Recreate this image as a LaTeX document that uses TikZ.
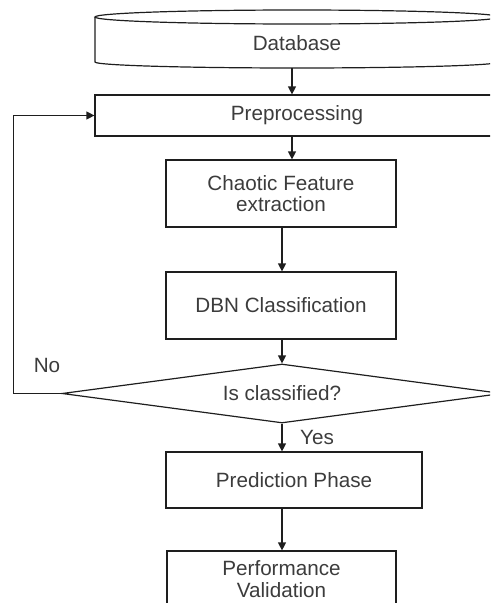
\documentclass[tikz,border=0pt]{standalone}
\usepackage{fontspec}
\setmainfont{Liberation Sans}
\usetikzlibrary{shapes.geometric,arrows.meta,calc}
\definecolor{txtc}{RGB}{60,60,60}
\definecolor{linec}{RGB}{30,30,30}
\begin{document}
\begin{tikzpicture}[x=0.75pt,y=0.75pt,
  ln/.style={draw=linec, line width=0.9pt},
  box/.style={ln, rectangle, align=center, text=txtc, font=\fontsize{15.5}{16}\selectfont, inner sep=0pt},
  plain/.style={rectangle, align=center, text=txtc, font=\fontsize{15.5}{16}\selectfont, inner sep=0pt},
  dec/.style={ln, diamond, aspect=7.46, align=center, text=txtc, font=\fontsize{15.5}{16}\selectfont, inner sep=0pt},
  arr/.style={ln, -{Triangle[length=6pt,width=6pt]}}]
\useasboundingbox (0,0) rectangle (490,-603);
\clip (0,0) rectangle (490,-603);
% database cylinder
\node[plain, minimum width=303pt, minimum height=37.5pt] (db) at (297,-43) {Database};
\draw[ln] (297,-17) ellipse[x radius=202, y radius=7];
\draw[ln] (95,-17) -- (95,-62) arc[start angle=180, end angle=360, x radius=202, y radius=6] -- (499,-17);
% boxes
\node[box, minimum width=303pt, minimum height=30.75pt] (pre) at (297,-115.5) {Preprocessing};
\node[box, minimum width=172.5pt, minimum height=50.25pt] (cfe) at (281,-193.5) {Chaotic Feature\\extraction};
\node[box, minimum width=172.5pt, minimum height=50.25pt] (dbn) at (281,-305.5) {DBN Classification};
\node[dec, minimum width=330pt, minimum height=44.25pt] (dc) at (282,-393.5) {Is classified?};
\node[box, minimum width=192pt, minimum height=42pt] (pred) at (294,-480) {Prediction Phase};
\node[box, minimum width=171.75pt, minimum height=42pt] (perf) at (281.5,-579) {Performance\\Validation};
% labels
\node[plain] (no) at (47,-365) {No};
\node[plain] (yes) at (317,-437) {Yes};
% connectors
\draw[arr] ([xshift=-3.75pt]db.south) -- ([xshift=-3.75pt]pre.north);
\draw[arr] ([xshift=-3.75pt]pre.south) -- ([xshift=-3.75pt]pre.south |- cfe.north);
\draw[arr] (cfe.south -| dc.north) -- (dbn.north -| dc.north);
\draw[arr] (dbn.south -| dc.north) -- (dc.north);
\draw[arr] (dc.south) -- (dc.south |- pred.north);
\draw[arr] (pred.south -| dc.south) -- (perf.north -| dc.south);
\draw[arr] (dc.west) -- ++(-48,0) |- (pre.west);
\end{tikzpicture}
\end{document}
